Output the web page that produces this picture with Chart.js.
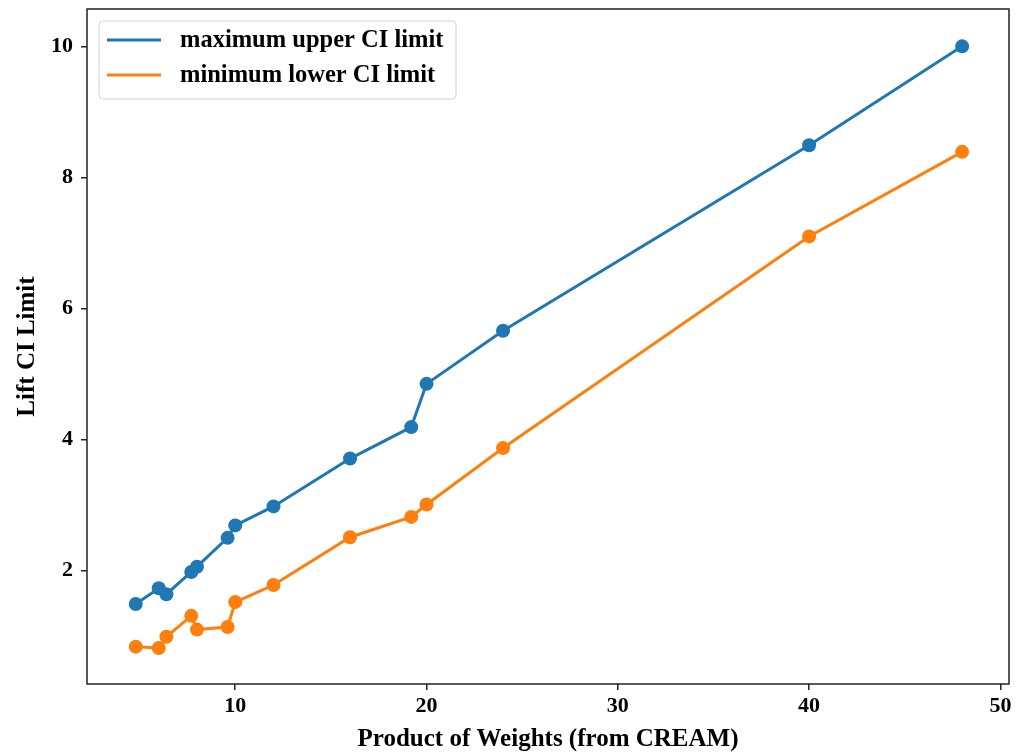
<!DOCTYPE html>
<html>
<head>
<meta charset="utf-8">
<title>Lift CI Limit vs Product of Weights</title>
<script src="https://cdn.jsdelivr.net/npm/chart.js@4.4.1/dist/chart.umd.min.js"></script>
<style>
    html, body { margin: 0; padding: 0; background: #ffffff; }
    .chart-wrap { position: relative; width: 1016px; height: 755px; }
</style>
</head>
<body>
<div class="chart-wrap"><canvas id="ciChart"></canvas></div>
<script>
    // values
    var weights = [4.8, 6, 6.4, 7.7, 8, 9.6, 10, 12, 16, 19.2, 20, 24, 40, 48];
    var upperLimit = [1.49, 1.73, 1.64, 1.98, 2.06, 2.50, 2.69, 2.98, 3.71, 4.19, 4.85, 5.66, 8.49, 10.0];
    var lowerLimit = [0.84, 0.82, 0.99, 1.31, 1.10, 1.14, 1.52, 1.78, 2.51, 2.82, 3.01, 3.87, 7.10, 8.39];
    var seriesNames = ['maximum upper CI limit', 'minimum lower CI limit'];
    var xTicks = [10, 20, 30, 40, 50];
    var yTicks = [2, 4, 6, 8, 10];

    (function () {
        'use strict';

        var C = {
            blue: '#1f77b4',
            orange: '#ff7f0e',
            axis: '#222222',
            text: '#000000',
            legendEdge: '#d0d0d0'
        };
        var FONT = "'Liberation Serif', 'Times New Roman', serif";

        function points(ys) {
            return weights.map(function (x, i) { return { x: x, y: ys[i] }; });
        }

        function series(label, ys, color) {
            return {
                label: label,
                data: points(ys),
                showLine: true,
                borderColor: color,
                backgroundColor: color,
                borderWidth: 3,
                pointRadius: 7,
                pointHoverRadius: 7,
                pointBorderWidth: 0,
                tension: 0
            };
        }

        // frame around the plot area + matplotlib-like legend box
        var framePlugin = {
            id: 'frameAndLegend',
            afterDraw: function (chart) {
                var ctx = chart.ctx;
                var a = chart.chartArea;
                ctx.save();
                ctx.strokeStyle = C.axis;
                ctx.lineWidth = 1.5;
                ctx.strokeRect(a.left, a.top, a.right - a.left, a.bottom - a.top);

                var bx = 99, by = 21, bw = 357, bh = 78, r = 4;
                ctx.beginPath();
                ctx.roundRect(bx, by, bw, bh, r);
                ctx.fillStyle = 'rgba(255,255,255,0.8)';
                ctx.fill();
                ctx.strokeStyle = C.legendEdge;
                ctx.lineWidth = 1;
                ctx.stroke();

                ctx.font = 'bold 24.5px ' + FONT;
                ctx.textBaseline = 'middle';
                ctx.textAlign = 'left';
                chart.data.datasets.forEach(function (ds, i) {
                    var cy = 40 + i * 35;
                    ctx.strokeStyle = ds.borderColor;
                    ctx.lineWidth = 3;
                    ctx.beginPath();
                    ctx.moveTo(107, cy);
                    ctx.lineTo(161, cy);
                    ctx.stroke();
                    ctx.fillStyle = C.text;
                    ctx.fillText(ds.label, 180, cy + 1);
                });
                ctx.restore();
            }
        };

        function axisGrid() {
            return {
                drawOnChartArea: false,
                drawTicks: true,
                tickLength: 6,
                color: C.axis,
                lineWidth: 1.5
            };
        }

        var el = document.getElementById('ciChart');

        new Chart(el, {
            type: 'scatter',
            data: {
                datasets: [
                    series(seriesNames[0], upperLimit, C.blue),
                    series(seriesNames[1], lowerLimit, C.orange)
                ]
            },
            options: {
                responsive: true,
                maintainAspectRatio: false,
                animation: false,
                layout: { padding: { top: 9, right: 5, left: 0, bottom: 0 } },
                plugins: {
                    legend: { display: false },
                    tooltip: { enabled: false }
                },
                scales: {
                    x: {
                        type: 'linear',
                        min: 2.25,
                        max: 50.45,
                        afterBuildTicks: function (s) {
                            s.ticks = xTicks.map(function (v) { return { value: v }; });
                        },
                        afterFit: function (s) {
                            s.height = 71;
                            s.paddingLeft = 0;
                            s.paddingRight = 0;
                        },
                        grid: axisGrid(),
                        border: { display: false },
                        ticks: {
                            color: C.text,
                            padding: 3,
                            maxRotation: 0,
                            font: { family: FONT, size: 22, weight: 'bold' }
                        },
                        title: {
                            display: true,
                            text: 'Product of Weights (from CREAM)',
                            color: C.text,
                            padding: { top: 0, bottom: 0 },
                            font: { family: FONT, size: 25, weight: 'bold' }
                        }
                    },
                    y: {
                        type: 'linear',
                        min: 0.27,
                        max: 10.57,
                        afterBuildTicks: function (s) {
                            s.ticks = yTicks.map(function (v) { return { value: v }; });
                        },
                        afterFit: function (s) {
                            s.width = 87;
                            s.paddingTop = 0;
                            s.paddingBottom = 0;
                        },
                        grid: axisGrid(),
                        border: { display: false },
                        ticks: {
                            color: C.text,
                            padding: 8,
                            font: { family: FONT, size: 22, weight: 'bold' }
                        },
                        title: {
                            display: true,
                            text: 'Lift CI Limit',
                            color: C.text,
                            padding: { top: 13, bottom: 0 },
                            font: { family: FONT, size: 25, weight: 'bold' }
                        }
                    }
                }
            },
            plugins: [framePlugin]
        });
    })();
</script>
</body>
</html>
